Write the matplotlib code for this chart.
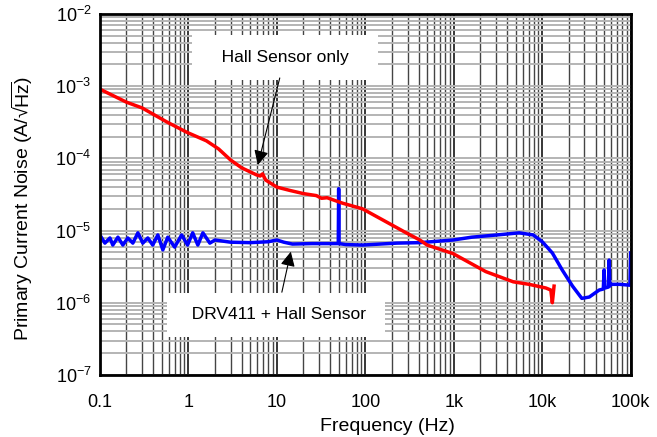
import matplotlib
matplotlib.use('Agg')
import matplotlib.pyplot as plt
import numpy as np
from matplotlib.ticker import FixedLocator, LogLocator, NullFormatter

plt.rcParams['font.family'] = ['Liberation Sans', 'DejaVu Sans']
plt.rcParams['mathtext.fontset'] = 'custom'
plt.rcParams['mathtext.rm'] = 'Liberation Sans'
plt.rcParams['mathtext.it'] = 'Liberation Sans:italic'

# Hall sensor only (red)
red_f = [0.1, 0.2, 0.3, 0.57, 0.96, 1.6, 2.2, 3.0, 4.0, 5.9, 6.5, 6.9, 7.5, 10, 14,
         20, 28, 32, 37, 55, 93, 150, 290, 413, 500, 980, 2300, 4700, 7100, 11000,
         12500, 13000, 13600]
red_v = [9.1e-4, 6.0e-4, 5.0e-4, 3.2e-4, 2.3e-4, 1.75e-4, 1.35e-4, 9.5e-5, 7.4e-5,
         5.9e-5, 5.7e-5, 6.1e-5, 5.0e-5, 4.0e-5, 3.6e-5, 3.25e-5, 3.05e-5, 2.8e-5,
         2.85e-5, 2.4e-5, 2.0e-5, 1.45e-5, 9.3e-6, 7.4e-6, 6.3e-6, 4.8e-6, 2.7e-6,
         1.95e-6, 1.8e-6, 1.6e-6, 1.5e-6, 1.0e-6, 1.7e-6]

# DRV411 + Hall sensor (blue)
blue_f = [0.1, 0.114, 0.13, 0.14, 0.16, 0.182, 0.207, 0.236, 0.269, 0.306, 0.348,
          0.396, 0.452, 0.515, 0.585, 0.70, 0.84, 0.98, 1.12, 1.28, 1.46, 1.75, 2.0,
          3, 5, 8, 10, 12, 15, 25, 40, 49.5, 50, 50.5, 60, 93, 228, 413, 980, 1600,
          3100, 5500, 7900, 10000, 13000, 16800, 22000, 28000, 34000, 44000, 49000,
          50000, 51000, 56000, 57000, 58000, 60000, 75000, 98000, 100000]
blue_v = [8.7e-6, 6.7e-6, 7.9e-6, 6.3e-6, 8.1e-6, 6.3e-6, 7.9e-6, 6.7e-6, 9.3e-6,
          6.7e-6, 7.9e-6, 6.3e-6, 8.7e-6, 5.4e-6, 8.1e-6, 5.9e-6, 8.7e-6, 6.3e-6,
          9.3e-6, 6.3e-6, 9.3e-6, 6.7e-6, 7.4e-6, 6.9e-6, 6.8e-6, 7.0e-6, 7.4e-6,
          6.9e-6, 6.5e-6, 6.6e-6, 6.6e-6, 6.6e-6, 3.8e-5, 6.6e-6, 6.4e-6, 6.3e-6,
          6.7e-6, 6.8e-6, 7.4e-6, 8.1e-6, 8.7e-6, 9.3e-6, 8.7e-6, 7.0e-6, 4.9e-6,
          2.85e-6, 1.7e-6, 1.15e-6, 1.2e-6, 1.5e-6, 1.55e-6, 2.85e-6, 1.6e-6,
          1.65e-6, 3.9e-6, 1.7e-6, 1.8e-6, 1.8e-6, 1.75e-6, 4.9e-6]

x_ticks = [0.1, 1, 10, 100, 1e3, 1e4, 1e5]
x_labels = ['0.1', '1', '10', '100', '1k', '10k', '100k']
y_ticks = [1e-7, 1e-6, 1e-5, 1e-4, 1e-3, 1e-2]
y_labels = ['10$^{-7}$', '10$^{-6}$', '10$^{-5}$', '10$^{-4}$', '10$^{-3}$', '10$^{-2}$']

fig = plt.figure(figsize=(6.57, 4.37), dpi=100)
ax = fig.add_axes([0.152, 0.142, 0.808, 0.826])
ax.set_xscale('log')
ax.set_yscale('log')
ax.set_xlim(0.1, 1e5)
ax.set_ylim(1e-7, 1e-2)

ax.xaxis.set_major_locator(FixedLocator(x_ticks))
ax.set_xticklabels(x_labels)
ax.yaxis.set_major_locator(FixedLocator(y_ticks))
ax.set_yticklabels(y_labels)
ax.xaxis.set_minor_locator(LogLocator(base=10, subs=np.arange(2, 10)))
ax.yaxis.set_minor_locator(LogLocator(base=10, subs=np.arange(2, 10)))
ax.xaxis.set_minor_formatter(NullFormatter())
ax.yaxis.set_minor_formatter(NullFormatter())
ax.tick_params(which='both', length=0, labelsize=13)
ax.tick_params(axis='x', pad=14)
ax.tick_params(axis='y', pad=6)

ax.grid(axis='y', which='both', color='#b4b4b4', lw=1.4)
ax.grid(axis='x', which='major', color='black', lw=1.1)
ax.grid(axis='x', which='minor', color='#444444', lw=1.0)
ax.set_axisbelow(True)
for s in ax.spines.values():
    s.set_linewidth(2)

ax.plot(blue_f, blue_v, color='#0000ff', lw=2.5)
ax.plot(red_f, red_v, color='#ff0000', lw=2.5)

box = dict(boxstyle='square,pad=0.85', fc='white', ec='none')
ax.text(12.3, 2.5e-3, '   Hall Sensor only   ', ha='center', va='center',
        fontsize=12.5, bbox=box, zorder=5)
ax.text(9.8, 6.8e-7, '  DRV411 + Hall Sensor ', ha='center', va='center',
        fontsize=12.5, bbox=box, zorder=5)
arrow = dict(arrowstyle='-|>', color='black', lw=0.8, mutation_scale=22,
             shrinkA=0, shrinkB=0)
ax.annotate('', xy=(6.1, 8.1e-5), xytext=(10.8, 1.3e-3), arrowprops=arrow, zorder=6)
ax.annotate('', xy=(14.4, 5.1e-6), xytext=(11.4, 1.4e-6), arrowprops=arrow, zorder=6)

ax.set_xlabel('Frequency (Hz)', fontsize=14)
ax.xaxis.set_label_coords(0.542, -0.118)
ax.set_ylabel('Primary Current Noise (A/\u221a' + r'$\overline{\mathrm{Hz}}$)',
              fontsize=14)
ax.yaxis.set_label_coords(-0.123, 0.46)

fig.savefig('out.png', dpi=100)
